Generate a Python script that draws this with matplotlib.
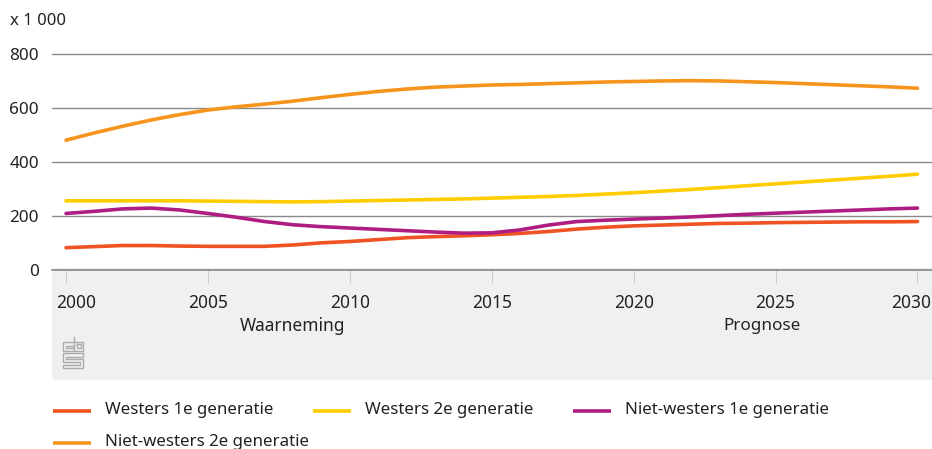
import matplotlib
matplotlib.use("Agg")
import matplotlib.pyplot as plt
from matplotlib.lines import Line2D
from matplotlib.patches import FancyBboxPatch
from matplotlib.transforms import ScaledTranslation

plt.rcParams['font.family'] = ['Noto Sans', 'DejaVu Sans']

years = list(range(2000, 2031))
westers_1e = [81,85,89,89,87,86,86,86,91,99,104,111,118,122,125,129,134,141,150,157,162,165,168,171,172,174,175,176,177,177,178]
westers_2e = [255,255,255,255,255,254,253,252,251,252,254,256,258,260,262,265,268,271,275,280,285,291,297,304,311,318,325,332,339,346,354]
niet_westers_1e = [208,216,225,228,221,208,194,178,166,159,154,149,144,139,135,136,147,165,178,183,187,191,195,200,205,209,213,217,221,225,228]
niet_westers_2e = [480,507,532,555,575,592,604,614,625,638,650,661,670,677,681,685,687,690,693,696,698,700,701,700,697,694,690,686,682,678,673]
series_names = ['Westers 1e generatie', 'Westers 2e generatie', 'Niet-westers 1e generatie', 'Niet-westers 2e generatie']
series_values = [westers_1e, westers_2e, niet_westers_1e, niet_westers_2e]
colors = ['#EF5323', '#FFCC00', '#AF1C82', '#F7941D']
x_ticks = [2000, 2005, 2010, 2015, 2020, 2025, 2030]
y_ticks = [0, 200, 400, 600, 800]

W, H = 932, 449
TXT = '#222222'
fig = plt.figure(figsize=(W/100, H/100), dpi=100)
fx = lambda p: p / W
fy = lambda p: 1 - p / H

band = FancyBboxPatch((fx(52), fy(380)), fx(932 + 30 - 52), fy(268) - fy(380),
                      boxstyle="round,pad=0,rounding_size=0.006", transform=fig.transFigure,
                      facecolor='#EFF0F0', edgecolor='none', mutation_aspect=W/H, zorder=0)
fig.add_artist(band)

ax = fig.add_axes([fx(52), fy(269.5), fx(880), fy(54) - fy(269.5)])
ax.patch.set_alpha(0)
ax.set_xlim(2000 - 14/28.383, 2000 + 866/28.383)
ax.set_ylim(0, 800)
for s in ['top', 'right', 'left']:
    ax.spines[s].set_visible(False)
ax.spines['bottom'].set_color('#808080')
ax.spines['bottom'].set_linewidth(1.1)
ax.set_yticks(y_ticks)
ax.tick_params(axis='y', length=0, pad=9.5, labelsize=12.3, labelcolor=TXT)
ax.set_xticks(x_ticks)
ax.set_xticklabels(x_ticks)
ax.tick_params(axis='x', length=9.5, width=0.8, color='#CCCCCC', pad=8.5, labelsize=12.5, labelcolor=TXT)
ax.grid(axis='y', color='#8A8A8A', lw=1.0)
ax.set_axisbelow(True)
ax.get_ygridlines()[-1].set_clip_on(False)
labs = ax.get_xticklabels()
labs[0].set_transform(labs[0].get_transform() + ScaledTranslation(10/100, 0, fig.dpi_scale_trans))
labs[-1].set_transform(labs[-1].get_transform() + ScaledTranslation(-6/100, 0, fig.dpi_scale_trans))

for vals, c, n in zip(series_values, colors, series_names):
    ax.plot(years, vals, color=c, lw=2.6, solid_capstyle='round', solid_joinstyle='round', label=n, zorder=3)

fig.text(fx(10), fy(21), 'x 1 000', fontsize=12, color=TXT, va='center', ha='left')
fig.text(fx(293), fy(326), 'Waarneming', fontsize=12.5, color=TXT, va='center', ha='center')
fig.text(fx(762), fy(326), 'Prognose', fontsize=12.3, color=TXT, va='center', ha='center')

# CBS logo
lc = '#ABABAB'
def lg(xs, ys):
    fig.add_artist(Line2D([fx(v) for v in xs], [fy(v) for v in ys], color=lc, lw=1.0, solid_joinstyle='miter'))
lg([72.7, 62.7, 62.7, 72.7], [341.7, 341.7, 350.7, 350.7])
lg([72.7, 65.7, 65.7, 72.7], [345.7, 345.7, 347.7, 347.7])
lg([74, 74, 83.3, 83.3, 74], [336.7, 350.7, 350.7, 341.7, 341.7])
lg([76.7, 81, 81, 76.7, 76.7], [344.3, 344.3, 348.3, 348.3, 344.3])
lg([83.3, 62.7, 62.7, 80, 80, 62.7, 62.7, 83.3, 83.3, 66, 66, 83.3, 83.3],
   [353.3, 353.3, 361.7, 361.7, 365.3, 365.3, 368.3, 368.3, 358.7, 358.7, 356.7, 356.7, 353.3])

# legend
pos = [(53, 411), (313, 411), (573, 411), (53, 443)]
for (px, py), c, n in zip(pos, colors, series_names):
    fig.add_artist(Line2D([fx(px), fx(px+38)], [fy(py)]*2, color=c, lw=2.6, solid_capstyle='butt'))
    fig.text(fx(px+52), fy(py-1), n, fontsize=12.2, color=TXT, va='center', ha='left')

fig.savefig('out.png', dpi=100)
